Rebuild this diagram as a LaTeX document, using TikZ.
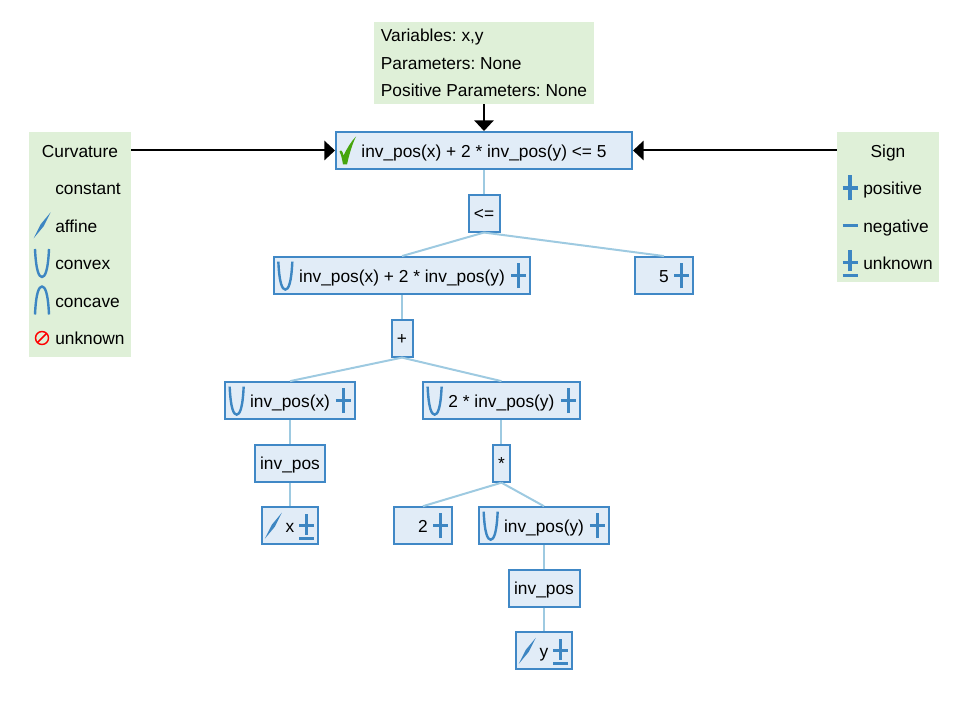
\documentclass[tikz,border=0pt]{standalone}
\usepackage{fontspec}
\setmainfont{Liberation Sans}
\usepackage{xcolor}
\usepackage{tikz}
\usetikzlibrary{arrows.meta,positioning}
\definecolor{boxfill}{HTML}{E1ECF7}
\definecolor{boxline}{HTML}{4088C6}
\definecolor{edgeline}{HTML}{9ECAE1}
\definecolor{legendfill}{HTML}{DFF0D8}
\definecolor{iconblue}{HTML}{3D86C2}
\definecolor{checkgreen}{HTML}{46A50C}
\frenchspacing

\begin{document}
\begin{tikzpicture}[
    x=0.75pt, y=0.75pt,
    node distance=17.65pt,
    font=\fontsize{13}{15}\selectfont,
    box/.style={
      draw=boxline, line width=1.5pt, fill=boxfill, align=center,
      minimum height=27.75pt, inner sep=0pt, text height=12pt, text depth=2.2pt
    },
    legend/.style={fill=legendfill, inner sep=0pt},
    legendtext/.style={anchor=west, inner sep=0pt, text height=12pt, text depth=2.2pt},
    edge/.style={draw=edgeline, line width=1.5pt},
    arrow/.style={-{Triangle[length=8pt,width=14.5pt]}, line width=1.5pt, draw=black},
    icon/.style={draw=iconblue, line width=1.8pt},
    bar/.style={draw=iconblue, line width=2.3pt},
    pics/convexicon/.style={code={
      \draw[icon] (-7,14) .. controls (-6,-8) and (-3,-14) .. (0,-14)
        .. controls (3,-14) and (6,-8) .. (7,14);
    }},
    pics/concaveicon/.style={code={
      \draw[icon] (-7,-14) .. controls (-6,8) and (-3,14) .. (0,14)
        .. controls (3,14) and (6,8) .. (7,-14);
    }},
    pics/affineicon/.style={code={
      \fill[iconblue] (-8.5,-13) -- (-1.5,1) -- (8.5,13) -- (1.5,-1) -- cycle;
    }},
    pics/plusicon/.style={code={
      \draw[bar] (-7.5,0) -- (7.5,0);
      \draw[bar] (0,-12.5) -- (0,12.5);
    }},
    pics/minusicon/.style={code={
      \draw[bar] (-7.5,0) -- (7.5,0);
    }},
    pics/pmicon/.style={code={
      \draw[bar] (-7.5,0) -- (7.5,0);
      \draw[bar] (0,-9) -- (0,12);
      \draw[bar] (-7.5,-13) -- (7.5,-13);
    }},
    pics/unknownicon/.style={code={
      \draw[red, line width=1.1pt] (0,0) circle (6.5);
      \draw[red, line width=1.1pt] (-4.6,-4.6) -- (4.6,4.6);
    }},
    pics/checkicon/.style={code={
      \fill[checkgreen] (-8.5,-1) .. controls (-7,1) and (-5.5,0) .. (-4.5,-5)
        .. controls (-1,2) and (3,9) .. (8,14)
        .. controls (4,6) and (1,-5) .. (-1,-14)
        -- (-5,-14) .. controls (-6,-8) and (-7,-4) .. (-8.5,-1) -- cycle;
    }}
  ]
    \useasboundingbox (0,0) rectangle (967,708);

    % legends and variables
    \node[legend, minimum width=220*0.75pt, minimum height=82*0.75pt, align=left,
      font=\fontsize{13}{20.6}\selectfont] (vars) at (484,645)
      {Variables: x,y\\Parameters: None\\Positive Parameters: None};
    \node[legend, minimum width=102*0.75pt, minimum height=225*0.75pt] (curv) at (80,463.5) {};
    \node[legend, minimum width=102*0.75pt, minimum height=150*0.75pt] (sign) at (888,501) {};

    \node[inner sep=0pt, text height=12pt, text depth=2.2pt] (curvtitle) at (80,557.5) {Curvature};
    \node[legendtext] (constant) at (55,520) {constant};
    \node[legendtext] (affine) at (55,482.5) {affine};
    \node[legendtext] (convex) at (55,445) {convex};
    \node[legendtext] (concave) at (55,407.5) {concave};
    \node[legendtext] (unknowncurv) at (55,370) {unknown};

    \node[inner sep=0pt, text height=12pt, text depth=2.2pt] (signtitle) at (888,557.5) {Sign};
    \node[legendtext] (positive) at (863,520) {positive};
    \node[legendtext] (negative) at (863,482.5) {negative};
    \node[legendtext] (unknownsign) at (863,445) {unknown};

    % tree
    \node[box, minimum width=222pt] (main) at (484,557.5) {inv\_pos(x) + 2 * inv\_pos(y) <= 5};
    \node[box, minimum width=23.25pt, below=of main] (leq) {<=};
    \node[box, minimum width=192pt, below=of leq, xshift=-61.5pt] (sum) {inv\_pos(x) + 2 * inv\_pos(y)};
    \node[box, minimum width=43.5pt, below=of leq, xshift=135pt] (five) {5};
    \node[box, minimum width=15.75pt, below=of sum] (plusop) {+};
    \node[box, minimum width=97.5pt, below=of plusop, xshift=-84pt] (invx) {inv\_pos(x)};
    \node[box, minimum width=117.75pt, below=of plusop, xshift=74.6pt] (twoinvy) {2 * inv\_pos(y)};
    \node[box, minimum width=52.5pt, below=of invx] (fnx) {inv\_pos};
    \node[box, minimum width=12.75pt, below=of twoinvy] (timesop) {*};
    \node[box, minimum width=42pt, below=of fnx] (varx) {x};
    \node[box, minimum width=43.5pt, below=of timesop, xshift=-58.9pt] (twoc) {2};
    \node[box, minimum width=97.5pt, below=of timesop, xshift=31.9pt] (invy) {inv\_pos(y)};
    \node[box, minimum width=53.25pt, below=of invy] (fny) {inv\_pos};
    \node[box, minimum width=42pt, below=of fny] (vary) {y};

    \draw[edge] (main) -- (leq);
    \draw[edge] (leq.south) -- (sum.north);
    \draw[edge] (leq.south) -- (five.north);
    \draw[edge] (sum) -- (plusop);
    \draw[edge] (plusop.south) -- (invx.north);
    \draw[edge] (plusop.south) -- (twoinvy.north);
    \draw[edge] (invx) -- (fnx);
    \draw[edge] (fnx) -- (varx);
    \draw[edge] (twoinvy) -- (timesop);
    \draw[edge] (timesop.south) -- (twoc.north);
    \draw[edge] (timesop.south) -- (invy.north);
    \draw[edge] (invy) -- (fny);
    \draw[edge] (fny) -- (vary);

    \draw[arrow] (vars.south) -- (main.north);
    \draw[arrow] (curv.east |- main.west) -- (main.west);
    \draw[arrow] (sign.west |- main.east) -- (main.east);

    % icons in the boxes
    \pic at ([xshift=9.75pt]main.west) {checkicon};
    \pic at ([xshift=9.25pt]sum.west) {convexicon};
    \pic at ([xshift=-9.25pt]sum.east) {plusicon};
    \pic at ([xshift=-9.25pt]five.east) {plusicon};
    \pic at ([xshift=9.5pt]invx.west) {convexicon};
    \pic at ([xshift=-9.5pt]invx.east) {plusicon};
    \pic at ([xshift=9.5pt]twoinvy.west) {convexicon};
    \pic at ([xshift=-9.5pt]twoinvy.east) {plusicon};
    \pic at ([xshift=9.25pt]varx.west) {affineicon};
    \pic at ([xshift=-9.25pt]varx.east) {pmicon};
    \pic at ([xshift=-9.25pt]twoc.east) {plusicon};
    \pic at ([xshift=9.5pt]invy.west) {convexicon};
    \pic at ([xshift=-9.5pt]invy.east) {plusicon};
    \pic at ([xshift=9.25pt]vary.west) {affineicon};
    \pic at ([xshift=-9.25pt]vary.east) {pmicon};

    % icons in the legends
    \pic at (42,482.5) {affineicon};
    \pic at (42,445) {convexicon};
    \pic at (42,407.5) {concaveicon};
    \pic at (42,370) {unknownicon};
    \pic at (850,520) {plusicon};
    \pic at (850,482.5) {minusicon};
    \pic at (850,445.5) {pmicon};
  \end{tikzpicture}
\end{document}
